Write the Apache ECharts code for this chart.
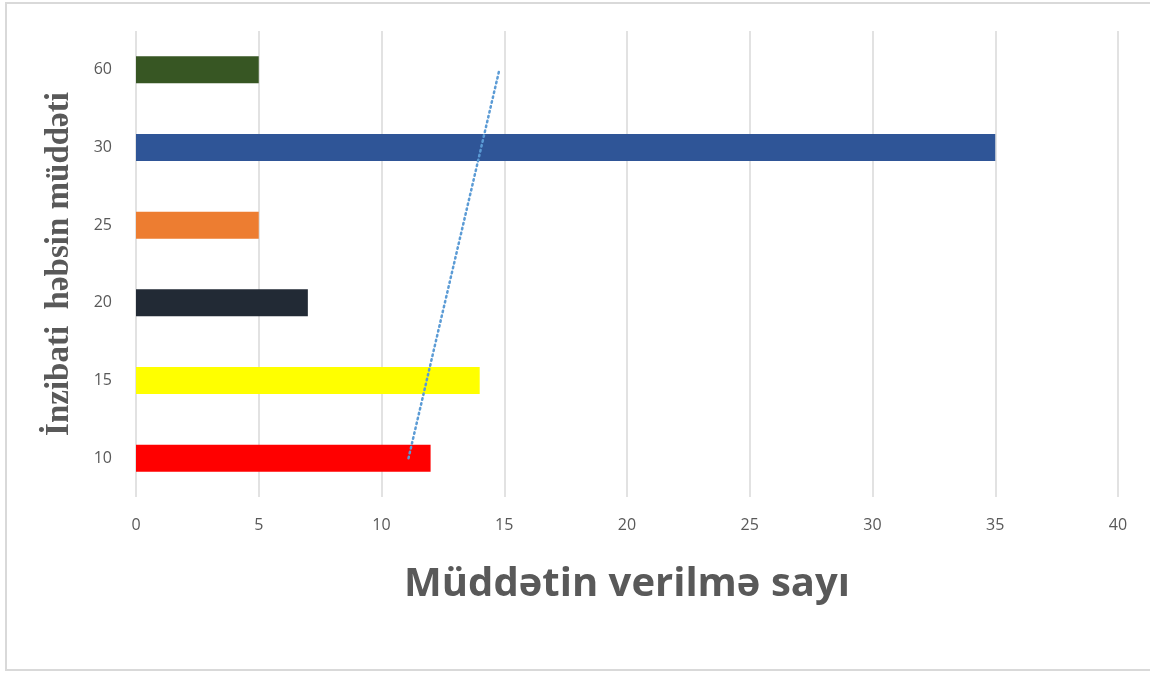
<!DOCTYPE html>
<html>
<head>
<meta charset="utf-8">
<script src="https://cdn.jsdelivr.net/npm/echarts@6/dist/echarts.min.js"></script>
<style>
  html, body { margin: 0; padding: 0; background: #ffffff; }
  #frame { position: absolute; left: 5px; top: 2px; width: 1160px; height: 669px; border: 2px solid #d9d9d9; box-sizing: border-box; }
  #chart { position: absolute; left: 0; top: 0; width: 1150px; height: 675px; }
</style>
</head>
<body>
<div id="frame"></div>
<div id="chart"></div>
<script>
const categories = ['10', '15', '20', '25', '30', '60'];
const values = [12, 14, 7, 5, 35, 5];
const barColors = ['#ff0000', '#ffff00', '#222a35', '#ed7d31', '#2f5597', '#375623'];
const trendCategories = ['10', '60'];
const trendValues = [11.1, 14.8];
const xTicks = [0, 5, 10, 15, 20, 25, 30, 35, 40];

const chart = echarts.init(document.getElementById('chart'), null, { renderer: 'canvas' });
chart.setOption({
  backgroundColor: 'transparent',
  animation: false,
  grid: { left: 136, right: 32, top: 31, bottom: 178 },
  xAxis: {
    type: 'value',
    min: xTicks[0],
    max: xTicks[xTicks.length - 1],
    interval: 5,
    axisLine: { show: false },
    axisTick: { show: false },
    splitLine: { show: true, lineStyle: { color: '#d9d9d9', width: 1.5 } },
    axisLabel: { color: '#595959', fontFamily: 'Open Sans', fontSize: 16, margin: 20 },
    name: 'Müddətin verilmə sayı',
    nameLocation: 'middle',
    nameGap: 68,
    nameTextStyle: { color: '#595959', fontFamily: 'Open Sans', fontWeight: 'bold', fontSize: 40 }
  },
  yAxis: {
    type: 'category',
    data: categories,
    axisLine: { show: false },
    axisTick: { show: false },
    axisLabel: { color: '#595959', fontFamily: 'Open Sans', fontSize: 16, margin: 24 },
    name: 'İnzibati  həbsin müddəti',
    nameLocation: 'middle',
    nameGap: 60,
    nameRotate: 90,
    nameTextStyle: { color: '#595959', fontFamily: 'Liberation Serif', fontWeight: 'bold', fontSize: 33 }
  },
  series: [
    {
      type: 'bar',
      barWidth: 27,
      data: values.map((v, i) => ({ value: v, itemStyle: { color: barColors[i] } }))
    },
    {
      type: 'line',
      symbol: 'none',
      data: trendValues.map((v, i) => [v, trendCategories[i]]),
      lineStyle: { color: '#5b9bd5', width: 2.5, type: [1.5, 3.5], cap: 'round' },
      z: 5
    }
  ]
});
</script>
</body>
</html>
